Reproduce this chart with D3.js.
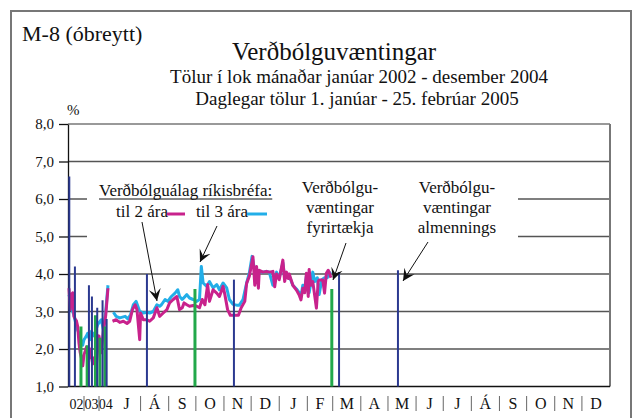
<!DOCTYPE html>
<html>
<head>
<meta charset="utf-8">
<script src="https://cdn.jsdelivr.net/npm/d3@7"></script>
<style>
  body { margin: 0; background: #fff; }
  svg { display: block; }
</style>
</head>
<body>
<svg id="chart"></svg>
<script>
// month-end figures, Jan 2002 - May 2004
const monthly2y = [3.62, 3.05, 3.45, 3.5, 2.87, 2.8, 2.75, 2.6, 2.15, 1.9, 1.75, 1.55, 1.85, 1.95, 2.05,
  1.85, 1.75, 2.0, 1.8, 1.6, 1.75, 1.8, 1.6, 2.0, 2.35, 1.9, 2.5, 2.9, 3.62];
const monthly3y = [3.45, 3.3, 3.1, 3.0, 2.9, 2.75, 2.6, 2.5, 2.42, 2.3, 2.15, 2.1, 2.25, 2.3, 2.35,
  2.42, 2.3, 2.25, 2.47, 2.4, 2.35, 2.45, 2.55, 2.65, 2.7, 2.78, 2.5, 3.0, 3.7];

// daily figures: [days after 1 Jul 2004, value]
const daily2y = [[0, 2.74], [4, 2.78], [8, 2.71], [12, 2.74], [16, 2.68], [19, 2.74], [22, 3.05], [25, 3.18],
  [27, 3.05], [30, 2.25], [31, 2.96], [34, 2.78], [38, 2.78], [41, 2.74], [45, 2.83], [49, 3.1], [52, 2.87],
  [56, 2.96], [60, 3.05], [63, 3.23], [67, 3.32], [71, 3.4], [74, 3.05], [77, 3.1], [79, 3.23], [82, 3.18],
  [85, 3.14], [89, 3.16], [93, 3.14], [96, 3.1], [99, 3.32], [102, 3.18], [105, 3.72], [107, 3.27], [111, 3.58],
  [115, 3.49], [118, 3.4], [122, 3.67], [124, 3.45], [127, 3.05], [130, 2.9], [133, 2.9], [139, 2.9], [142, 3.1],
  [146, 3.27], [148, 3.75], [151, 3.94], [155, 4.46], [157, 3.7], [159, 4.2], [161, 3.62], [162, 4.1], [166, 4.05],
  [170, 4.07], [173, 4.05], [177, 4.07], [179, 3.66], [181, 4.0], [184, 3.85], [188, 4.37], [190, 3.8], [192, 4.05],
  [194, 3.88], [195, 4.0], [199, 3.7], [203, 3.57], [206, 3.44], [208, 3.31], [210, 3.62], [212, 3.5], [214, 4.02],
  [216, 3.4], [217, 4.12], [219, 3.7], [221, 3.8], [225, 3.09], [227, 3.8], [228, 3.84], [232, 3.84], [234, 3.49],
  [236, 4.02], [238, 4.1], [239, 4.05], [241, 3.9]];
const daily3y = [[1, 2.98], [4, 2.87], [8, 2.83], [14, 2.87], [17, 2.8], [20, 2.92], [23, 3.18], [26, 3.27],
  [28, 3.14], [30, 3.0], [34, 2.96], [38, 2.98], [41, 2.96], [45, 3.0], [49, 3.18], [52, 3.14], [54, 3.18],
  [58, 3.32], [61, 3.27], [65, 3.4], [69, 3.49], [72, 3.58], [74, 3.4], [77, 3.32], [82, 3.45], [85, 3.36],
  [89, 3.32], [93, 3.27], [96, 3.32], [98, 4.2], [100, 3.76], [104, 3.67], [107, 3.8], [111, 3.63], [115, 3.72],
  [118, 3.58], [122, 3.76], [126, 3.63], [129, 3.32], [133, 3.19], [137, 3.17], [140, 3.17], [144, 3.32],
  [148, 3.76], [151, 4.03], [154, 4.47], [157, 4.1], [162, 4.06], [166, 4.05], [170, 4.07], [173, 4.05],
  [177, 3.7], [181, 4.05], [184, 3.9], [188, 4.3], [190, 3.9], [193, 4.0], [195, 3.95], [199, 3.7], [203, 3.6],
  [206, 3.5], [208, 3.4], [210, 3.7], [212, 3.6], [214, 3.95], [217, 3.5], [221, 4.05], [223, 3.8], [226, 3.9],
  [228, 3.45], [231, 3.85], [234, 3.9], [237, 3.9], [239, 4.05], [241, 4.0]];

// survey results (bars)
const publicSurvey = [["2002-01-08", 6.6], ["2002-05-25", 4.2], ["2003-05-01", 3.7], ["2003-07-13", 3.4],
  ["2003-11-19", 3.1], ["2004-02-18", 3.3], ["2004-04-13", 2.8], ["2004-08-08", 4.0], ["2004-11-12", 3.85],
  ["2005-03-08", 4.05], ["2005-05-12", 4.1]];
const firmSurvey = [["2002-10-19", 2.6], ["2003-03-19", 2.1], ["2003-10-07", 2.9], ["2004-01-13", 2.3],
  ["2004-03-22", 2.6], ["2004-09-30", 3.6], ["2005-02-28", 3.6]];

const yearLabels = ["02", "03", "04"];
const monthLabels = ["J", "Á", "S", "O", "N", "D", "J", "F", "M", "A", "M", "J", "J", "Á", "S", "O", "N", "D"];
const yTicks = [1, 2, 3, 4, 5, 6, 7, 8];

const width = 635, height = 418;
const plotLeft = 68, plotRight = 610, plotTop = 124, plotBottom = 386.5;
const serif = '"Liberation Serif", "Times New Roman", "DejaVu Serif", serif';

const magenta = '#c8228c', cyan = '#22aee8', navy = '#2b3990', green = '#22a84a';

const svg = d3.select('#chart').attr('width', width).attr('height', height);
const parse = d3.timeParse('%Y-%m-%d');
const base = new Date(2004, 6, 1);
const fmt = d3.formatLocale({ decimal: ',', thousands: '.', grouping: [3], currency: ['', ''] }).format('.1f');

// compressed years on the left, then month by month
const x = d3.scaleTime()
  .domain([new Date(2002, 0, 1), new Date(2004, 0, 1), new Date(2004, 6, 1), new Date(2006, 0, 1)])
  .range([69, 99, 112.5, plotRight]);
const y = d3.scaleLinear().domain([1, 8]).range([plotBottom, plotTop]);

// outer frame
svg.append('rect')
  .attr('x', 11).attr('y', 11).attr('width', 620).attr('height', 430)
  .attr('fill', 'none').attr('stroke', '#777').attr('stroke-width', 2);

// titles
svg.append('text').attr('x', 22).attr('y', 41).attr('font-size', 22).text('M-8 (óbreytt)');
svg.append('text').attr('x', 334).attr('y', 60).attr('text-anchor', 'middle').attr('font-size', 25)
  .text('Verðbólguvæntingar');
svg.append('text').attr('x', 359).attr('y', 83).attr('text-anchor', 'middle').attr('font-size', 19)
  .text('Tölur í lok mánaðar janúar 2002 - desember 2004');
svg.append('text').attr('x', 357).attr('y', 105).attr('text-anchor', 'middle').attr('font-size', 19)
  .text('Daglegar tölur 1. janúar - 25. febrúar 2005');
svg.append('text').attr('x', 67).attr('y', 115).attr('font-size', 15).text('%');

// gridlines
svg.append('g')
  .selectAll('line')
  .data(yTicks.slice(1))
  .join('line')
  .attr('x1', plotLeft).attr('x2', plotRight)
  .attr('y1', d => y(d)).attr('y2', d => y(d))
  .attr('stroke', d => d === 8 ? '#777' : '#555')
  .attr('stroke-width', 1.3);

// right border
svg.append('line')
  .attr('x1', plotRight).attr('x2', plotRight).attr('y1', plotTop).attr('y2', plotBottom)
  .attr('stroke', '#777').attr('stroke-width', 2);

// white label box hiding part of the 5 and 6 gridlines
svg.append('rect')
  .attr('x', 87).attr('y', 185).attr('width', 431).attr('height', 62)
  .attr('fill', '#fff');

// y axis
const yAxis = svg.append('g')
  .attr('transform', `translate(${plotLeft},0)`)
  .call(d3.axisLeft(y).tickValues(yTicks).tickSize(9).tickSizeOuter(0).tickPadding(5).tickFormat(fmt));
yAxis.select('.domain').attr('stroke', '#111').attr('stroke-width', 1.3);
yAxis.selectAll('.tick line').attr('stroke', '#111').attr('stroke-width', 1.3);
yAxis.selectAll('.tick text').attr('font-size', 15);

// x baseline
svg.append('line')
  .attr('x1', plotLeft).attr('x2', plotRight).attr('y1', plotBottom).attr('y2', plotBottom)
  .attr('stroke', '#111').attr('stroke-width', 1.5);

// lines
const line = d3.line().x(d => x(d[0])).y(d => y(d[1]));
const monthlyPts = vals => vals.map((v, i) => [new Date(2002, i, 1), v]);
const dailyPts = arr => arr.map(d => [d3.timeDay.offset(base, d[0]), d[1]]);

const series = [
  { color: cyan, monthly: monthly3y, daily: daily3y },
  { color: magenta, monthly: monthly2y, daily: daily2y },
];
series.forEach(s => {
  [monthlyPts(s.monthly), dailyPts(s.daily)].forEach(pts => {
    svg.append('path')
      .datum(pts)
      .attr('d', line)
      .attr('fill', 'none')
      .attr('stroke', s.color)
      .attr('stroke-width', 3)
      .attr('stroke-linejoin', 'round');
  });
});

// survey bars
[{ data: firmSurvey, color: green, w: 3 }, { data: publicSurvey, color: navy, w: 2 }].forEach(b => {
  svg.append('g')
    .selectAll('line')
    .data(b.data)
    .join('line')
    .attr('x1', d => x(parse(d[0]))).attr('x2', d => x(parse(d[0])))
    .attr('y1', y(1)).attr('y2', d => y(d[1]))
    .attr('stroke', b.color)
    .attr('stroke-width', b.w);
});

// x labels
const labelY = 409;
const xl = svg.append('g').attr('font-size', 16).attr('text-anchor', 'middle');
yearLabels.forEach((t, i) => {
  const a = new Date(2002 + i, 0, 1);
  const b = i < 2 ? new Date(2003 + i, 0, 1) : new Date(2004, 6, 1);
  xl.append('text').attr('x', (x(a) + x(b)) / 2).attr('y', labelY).attr('font-size', 14).text(t);
});
monthLabels.forEach((t, i) => {
  const a = new Date(2004, 6 + i, 1), b = new Date(2004, 7 + i, 1);
  xl.append('text').attr('x', (x(a) + x(b)) / 2).attr('y', labelY).text(t);
});
const seps = [new Date(2003, 0, 1), new Date(2004, 0, 1)]
  .concat(d3.range(1, monthLabels.length).map(i => new Date(2004, 6 + i, 1)));
svg.append('g')
  .selectAll('line')
  .data(seps)
  .join('line')
  .attr('x1', d => x(d)).attr('x2', d => x(d))
  .attr('y1', 396).attr('y2', 411)
  .attr('stroke', '#666').attr('stroke-width', 1);

// legend
const lg = svg.append('g').attr('font-size', 17);
const head = lg.append('text').attr('x', 99).attr('y', 196).style('font-family', serif)
  .text('Verðbólguálag ríkisbréfa:');
const hb = head.node().getBBox();
lg.append('line')
  .attr('x1', hb.x).attr('x2', hb.x + hb.width).attr('y1', 199).attr('y2', 199)
  .attr('stroke', '#111').attr('stroke-width', 1);
lg.append('text').attr('x', 116).attr('y', 217).text('til 2 ára');
lg.append('line').attr('x1', 167).attr('x2', 185).attr('y1', 214).attr('y2', 214)
  .attr('stroke', magenta).attr('stroke-width', 3);
lg.append('text').attr('x', 196).attr('y', 217).text('til 3 ára');
lg.append('line').attr('x1', 247).attr('x2', 267).attr('y1', 214).attr('y2', 214)
  .attr('stroke', cyan).attr('stroke-width', 3);

// annotations
const notes = [
  { x: 340, lines: ['Verðbólgu-', 'væntingar', 'fyrirtækja'] },
  { x: 457, lines: ['Verðbólgu-', 'væntingar', 'almennings'] },
];
notes.forEach(n => {
  n.lines.forEach((t, i) => {
    lg.append('text').attr('x', n.x).attr('y', 193 + i * 20).attr('text-anchor', 'middle').text(t);
  });
});

// arrows
svg.append('defs').append('marker')
  .attr('id', 'head')
  .attr('markerUnits', 'userSpaceOnUse')
  .attr('viewBox', '-12 -7 13 14')
  .attr('refX', 0).attr('refY', 0)
  .attr('markerWidth', 13).attr('markerHeight', 14)
  .attr('orient', 'auto')
  .append('path')
  .attr('d', 'M0,0 L-12,-6 L-7,0 L-12,6 Z')
  .attr('fill', '#111');

const arrows = [
  [142, 222, 157, 301],
  [217, 226, 200, 262],
  [346, 243, 333, 280],
  [428, 242, 403, 281],
];
svg.append('g')
  .selectAll('line')
  .data(arrows)
  .join('line')
  .attr('x1', d => d[0]).attr('y1', d => d[1])
  .attr('x2', d => d[2]).attr('y2', d => d[3])
  .attr('stroke', '#111').attr('stroke-width', 1)
  .attr('marker-end', 'url(#head)');

// serif type everywhere
svg.selectAll('text').style('font-family', serif).style('fill', '#111');
</script>
</body>
</html>
